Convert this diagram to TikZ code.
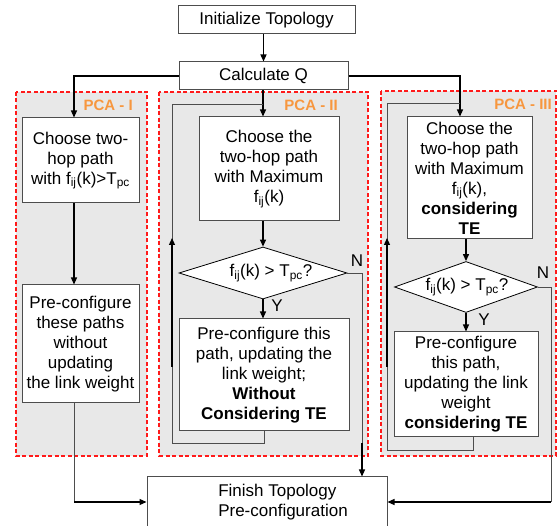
\documentclass[tikz,border=0pt]{standalone}
\usepackage{fontspec}
\setmainfont{Liberation Sans}
\usetikzlibrary{arrows.meta, positioning, calc, shapes.geometric}
\definecolor{pcared}{HTML}{FF1A1A}
\definecolor{pcafill}{HTML}{E8E8E8}
\definecolor{pcaorange}{HTML}{F7973F}
\definecolor{lngray}{HTML}{4D4D4D}

\begin{document}
\begin{tikzpicture}[x=1pt, y=-1pt,
  every node/.style={font=\fontsize{17}{20}\selectfont, text=black},
  box/.style={draw=lngray, line width=1pt, fill=white, align=center, inner sep=0.5pt},
  decision/.style={diamond, draw=black, line width=0.8pt, fill=white, inner sep=0pt},
  pcaframe/.style={draw=pcared, fill=pcafill, line width=1.8pt, dash pattern=on 4pt off 2.5pt},
  pcalabel/.style={font=\fontsize{15}{18}\selectfont\bfseries, text=pcaorange, anchor=base east, inner sep=0pt},
  lnk/.style={draw=lngray, line width=0.8pt},
  arr/.style={black, line width=1.2pt, -{Triangle[length=7pt, width=6pt]}},
]
\useasboundingbox (0,0) rectangle (558,526);

% PCA frames
\draw[pcaframe] (16,92) rectangle (147,456);
\draw[pcaframe] (159,92) rectangle (368,456);
\draw[pcaframe] (381,91) rectangle (556,456);
\node[pcalabel] (lblI) at (133,111) {PCA - I};
\node[pcalabel] (lblII) at (338,111) {PCA - II};
\node[pcalabel] (lblIII) at (552,110) {PCA - III};

% Top boxes
\node[box, minimum width=177, minimum height=28] (init) at (266.5,20) {Initialize Topology};
\node[box, minimum width=169, minimum height=28] (calcq) at (263.5,76) {Calculate Q};
\node[box, minimum width=240, minimum height=50, align=left] (finish) at (267,502)
  {\hspace*{32pt}Finish Topology\\\hspace*{32pt}Pre-configuration};

% Columns and loop corners
\coordinate (colI) at (74,0);
\coordinate (colII) at (263,0);
\coordinate (colIII) at (460,0);
\coordinate (loopII) at (172,443);
\coordinate (joinII) at (263,104);
\coordinate (upIIa) at (172,367);
\coordinate (upIIb) at (172,238);
\coordinate (nII) at (362,443);
\coordinate (loopIII) at (387,450);
\coordinate (joinIII) at (460,103);
\coordinate (upIIIa) at (387,367);
\coordinate (upIIIb) at (387,238);
\coordinate (nIII) at (551,502);

% PCA - I
\node[box, minimum width=117, minimum height=85] (choose1) at (80.5,160.5)
  {Choose two-\\hop path\\with f\textsubscript{ij}(k)>T\textsubscript{pc}};
\node[box, minimum width=117, minimum height=118] (precfg1) at (80.5,344)
  {Pre-configure\\these paths\\without\\updating\\the link weight};

% PCA - II
\node[box, minimum width=140, minimum height=104] (choose2) at (269,169)
  {Choose the\\two-hop path\\with Maximum\\f\textsubscript{ij}(k)};
\node[decision, minimum width=168, minimum height=52,
  label={[xshift=8pt]center:f\textsubscript{ij}(k) > T\textsubscript{pc}?}] (test2) at (263,273) {};
\node[box, minimum width=170, minimum height=112] (precfg2) at (264,375)
  {Pre-configure this\\path, updating the\\link weight;\\\textbf{Without}\\\textbf{Considering TE}};
\node (yII) at (277,306) {Y};
\node (nlII) at (357,261) {N};

% PCA - III
\node[box, minimum width=125, minimum height=122] (choose3) at (469.5,178)
  {Choose the\\two-hop path\\with Maximum\\f\textsubscript{ij}(k),\\\textbf{considering}\\\textbf{TE}};
\node[decision, minimum width=143, minimum height=51,
  label={[xshift=1pt]center:f\textsubscript{ij}(k) > T\textsubscript{pc}?}] (test3) at (466,287) {};
\node[box, minimum width=144, minimum height=105] (precfg3) at (466,384.5)
  {Pre-configure\\this path,\\updating the link\\weight\\\textbf{considering TE}};
\node (yIII) at (484,320) {Y};
\node (nlIII) at (543,273) {N};

% Connectors
\draw[arr] (init.south -| calcq.north) -- (calcq.north);
\draw[arr] (calcq.west) -| (colI |- choose1.north);
\draw[arr] (colI |- choose1.south) -- (colI |- precfg1.north);
\draw[lnk] (colI |- precfg1.south) -- (colI |- finish.west);
\draw[arr] (colI |- finish.west) -- (finish.west);

\draw[arr] (calcq.south -| colII) -- (colII |- choose2.north);
\draw[arr] (colII |- choose2.south) -- (test2.north);
\draw[arr] (test2.south) -- (test2.south |- precfg2.north);
\draw[lnk] (precfg2.south) |- (loopII) |- (joinII);
\draw[arr] (upIIa) -- (upIIb);
\draw[lnk] (test2.east) -| (nII);
\draw[arr] (nII) -- (nII |- finish.north);

\draw[arr] (calcq.east) -| (colIII |- choose3.north);
\draw[arr] (choose3.south -| test3.north) -- (test3.north);
\draw[arr] (test3.south) -- (precfg3.north);
\draw[lnk] ([xshift=7pt]precfg3.south) |- (loopIII) |- (joinIII);
\draw[arr] (upIIIa) -- (upIIIb);
\draw[lnk] (test3.east) -| (nIII);
\draw[arr] (nIII) -- (finish.east);

\end{tikzpicture}
\end{document}
